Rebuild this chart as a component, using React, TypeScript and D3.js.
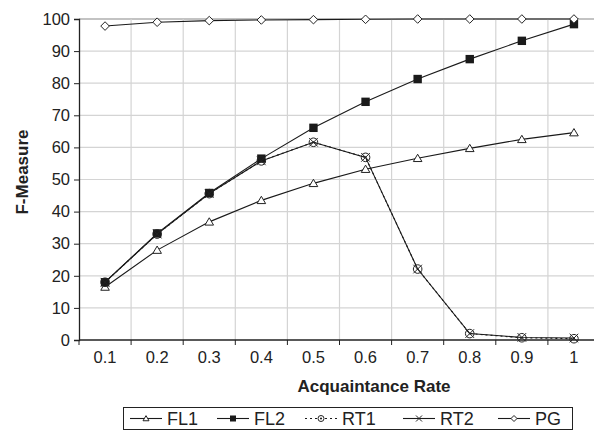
import React, { useEffect, useRef } from 'react';
import * as d3 from 'd3';

const categories = ['0.1', '0.2', '0.3', '0.4', '0.5', '0.6', '0.7', '0.8', '0.9', '1'];
const fl1 = [16.5, 28, 36.8, 43.5, 48.8, 53.2, 56.6, 59.7, 62.5, 64.6];
const fl2 = [18, 33.2, 45.8, 56.5, 66.1, 74.2, 81.3, 87.5, 93.2, 98.4];
const rt1 = [18, 33, 45.6, 55.8, 61.6, 56.9, 22.1, 2, 0.7, 0.4];
const rt2 = [18, 33, 45.6, 55.8, 61.6, 56.9, 22.1, 2, 0.8, 0.6];
const pg = [97.8, 99, 99.5, 99.7, 99.8, 99.9, 100, 100, 100, 100];
const yTicks = [0, 10, 20, 30, 40, 50, 60, 70, 80, 90, 100];

const series = [
	{ name: 'FL1', values: fl1, marker: 'triangle', dash: null },
	{ name: 'FL2', values: fl2, marker: 'square', dash: null },
	{ name: 'RT1', values: rt1, marker: 'circle', dash: '2,3' },
	{ name: 'RT2', values: rt2, marker: 'cross', dash: null },
	{ name: 'PG', values: pg, marker: 'diamond', dash: null },
];

const width = 594;
const height = 431;
const font = '"Liberation Sans", Arial, sans-serif';

const drawMarker = (g, kind, x, y, s) => {
	if (kind === 'triangle') {
		g.append('path')
			.attr('d', `M${x},${y - s * 0.95}L${x + s},${y + s * 0.75}L${x - s},${y + s * 0.75}Z`)
			.attr('fill', '#fff').attr('stroke', '#222').attr('stroke-width', 1);
	} else if (kind === 'square') {
		g.append('rect')
			.attr('x', x - s).attr('y', y - s).attr('width', s * 2).attr('height', s * 2)
			.attr('fill', '#1a1a1a');
	} else if (kind === 'circle') {
		g.append('circle').attr('cx', x).attr('cy', y).attr('r', s)
			.attr('fill', 'none').attr('stroke', '#222').attr('stroke-width', 1);
		g.append('circle').attr('cx', x).attr('cy', y).attr('r', 1).attr('fill', '#222');
	} else if (kind === 'cross') {
		g.append('path')
			.attr('d', `M${x - s},${y - s}L${x + s},${y + s}M${x - s},${y + s}L${x + s},${y - s}`)
			.attr('stroke', '#222').attr('stroke-width', 1);
	} else if (kind === 'diamond') {
		g.append('path')
			.attr('d', `M${x},${y - s}L${x + s},${y}L${x},${y + s}L${x - s},${y}Z`)
			.attr('fill', '#fff').attr('stroke', '#222').attr('stroke-width', 1);
	}
};

const App = () => {
	const ref = useRef(null);

	useEffect(() => {
		const svg = d3.select(ref.current);
		svg.selectAll('*').remove();

		const x = d3.scaleBand().domain(categories).range([79, 600]).padding(0);
		const y = d3.scaleLinear().domain([0, 100]).range([340, 19]);
		const cx = d => x(d) + x.bandwidth() / 2;

		// grid
		const grid = svg.append('g');
		grid.selectAll('.hg')
			.data(yTicks.filter(t => t > 0))
			.join('line')
			.attr('x1', 79).attr('x2', 600)
			.attr('y1', d => y(d)).attr('y2', d => y(d))
			.attr('stroke', d => (d === 100 ? '#888' : '#d4d4d4'))
			.attr('stroke-width', 1.2);
		grid.selectAll('.vg')
			.data(categories.slice(1))
			.join('line')
			.attr('x1', d => x(d)).attr('x2', d => x(d))
			.attr('y1', y(100)).attr('y2', y(0))
			.attr('stroke', '#d4d4d4')
			.attr('stroke-width', 1.2);

		// axes
		const yAxis = svg.append('g').attr('transform', 'translate(79,0)')
			.call(d3.axisLeft(y).tickValues(yTicks).tickSize(5).tickPadding(4));
		yAxis.select('.domain').attr('stroke', '#222').attr('stroke-width', 1.3);
		yAxis.selectAll('.tick line').attr('stroke', '#222');
		yAxis.selectAll('text').attr('font-family', font).attr('font-size', 16.5).attr('fill', '#222');

		const xAxis = svg.append('g').attr('transform', 'translate(0,340)');
		xAxis.append('line').attr('x1', 79).attr('x2', 600).attr('stroke', '#222').attr('stroke-width', 1.3);
		xAxis.selectAll('.xt')
			.data(categories)
			.join('line')
			.attr('x1', d => x(d) + x.bandwidth()).attr('x2', d => x(d) + x.bandwidth())
			.attr('y1', 0).attr('y2', 5).attr('stroke', '#222');
		xAxis.append('line').attr('x1', 79).attr('x2', 79).attr('y1', 0).attr('y2', 5).attr('stroke', '#222');
		xAxis.selectAll('.xl')
			.data(categories)
			.join('text')
			.attr('x', d => cx(d))
			.attr('y', 23)
			.attr('text-anchor', 'middle')
			.attr('font-family', font).attr('font-size', 16.5).attr('fill', '#222')
			.text(d => d);

		// series
		const line = d3.line().x((d, i) => cx(categories[i])).y(d => y(d));
		series.forEach(s => {
			svg.append('path')
				.attr('d', line(s.values))
				.attr('fill', 'none')
				.attr('stroke', '#1a1a1a')
				.attr('stroke-width', 1.1)
				.attr('stroke-dasharray', s.dash);
		});
		series.forEach(s => {
			const g = svg.append('g');
			s.values.forEach((v, i) => {
				drawMarker(g, s.marker, cx(categories[i]), y(v), s.marker === 'square' ? 4.2 : 4.3);
			});
		});

		// titles
		svg.append('text')
			.attr('x', 374).attr('y', 392)
			.attr('text-anchor', 'middle')
			.attr('font-family', font).attr('font-size', 17).attr('font-weight', 'bold').attr('fill', '#222')
			.text('Acquaintance Rate');
		svg.append('text')
			.attr('transform', 'translate(28,172) rotate(-90)')
			.attr('text-anchor', 'middle')
			.attr('font-family', font).attr('font-size', 17).attr('font-weight', 'bold').attr('fill', '#222')
			.text('F-Measure');

		// legend
		const legend = svg.append('g');
		legend.append('rect')
			.attr('x', 123.5).attr('y', 407.5).attr('width', 449).attr('height', 22)
			.attr('fill', '#fff').attr('stroke', '#222').attr('stroke-width', 1);
		const legendX = [130, 217, 305, 403, 498];
		series.forEach((s, i) => {
			const lx = legendX[i];
			const ly = 418.5;
			legend.append('line')
				.attr('x1', lx).attr('x2', lx + 32).attr('y1', ly).attr('y2', ly)
				.attr('stroke', '#1a1a1a').attr('stroke-width', 1.1)
				.attr('stroke-dasharray', s.dash);
			drawMarker(legend, s.marker, lx + 16, ly, 3);
			legend.append('text')
				.attr('x', lx + 37).attr('y', ly + 6.5)
				.attr('font-family', font).attr('font-size', 18).attr('fill', '#222')
				.text(s.name);
		});
	}, []);

	return (
		<svg
			ref={ref}
			width={width}
			height={height}
			style={{ position: 'absolute', left: 0, top: 0, background: '#fff' }}
		/>
	);
};

export default App;
